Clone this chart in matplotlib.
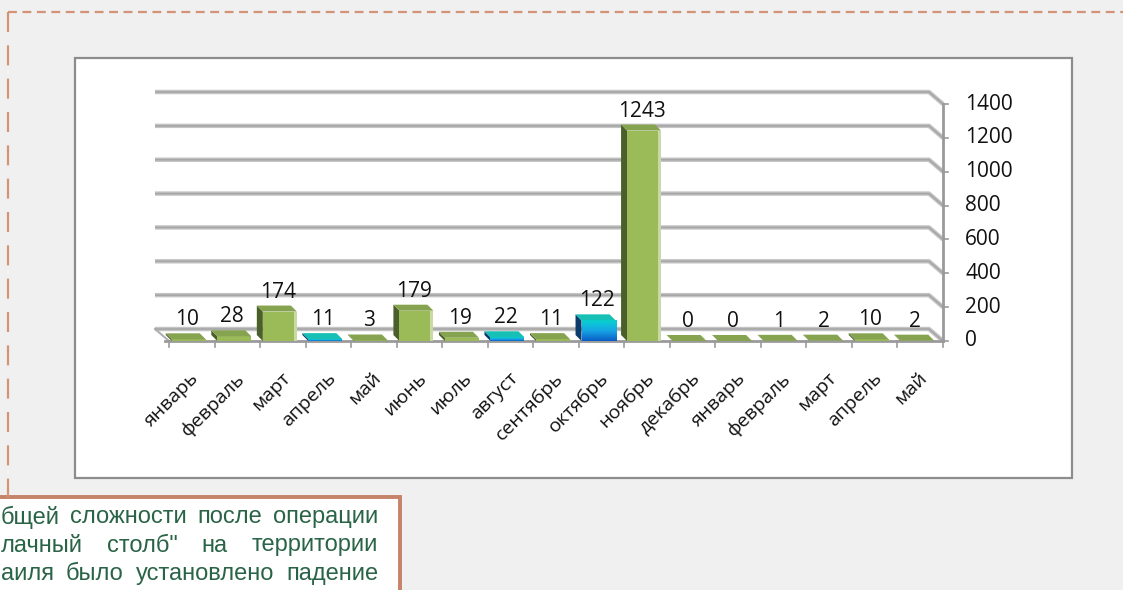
import numpy as np
import matplotlib
matplotlib.use("Agg")
import matplotlib.pyplot as plt
from matplotlib.patches import Polygon, Rectangle
from matplotlib.colors import LinearSegmentedColormap

# ---------------- data ----------------
months = ["январь", "февраль", "март", "апрель", "май", "июнь", "июль", "август",
          "сентябрь", "октябрь", "ноябрь", "декабрь", "январь", "февраль", "март",
          "апрель", "май"]
values = [10, 28, 174, 11, 3, 179, 19, 22, 11, 122, 1243, 0, 0, 1, 2, 10, 2]
blue_idx = [3, 7, 9]   # апрель, август, октябрь drawn in blue
y_ticks = [0, 200, 400, 600, 800, 1000, 1200, 1400]
note_lines = ["бщей сложности после операции",
              'лачный  столб"  на  территории',
              "аиля было установлено падение"]

W, H = 1123, 590
fig = plt.figure(figsize=(W / 100, H / 100), dpi=100)
fig.patch.set_facecolor("#f0f0f0")

# -------- overlay axes in pixel coordinates --------
ov = fig.add_axes([0, 0, 1, 1], zorder=0)
ov.set_xlim(0, W)
ov.set_ylim(H, 0)
ov.axis("off")

dash_col = "#d29377"
ov.plot([8, W], [12, 12], color=dash_col, lw=1.6, dashes=(4, 2.5), solid_capstyle="butt")
ov.plot([8, 8], [12, 497], color=dash_col, lw=1.6, dashes=(9, 6), solid_capstyle="butt")

ov.add_patch(Rectangle((75, 58), 997, 420, facecolor="white", edgecolor="#8c8c8c", lw=1.6))

ov.add_patch(Rectangle((-10, 497), 410, 120, facecolor="white", edgecolor="#c5836a", lw=2.8))

renderer = fig.canvas.get_renderer()
x_left, x_right = 1, 378
for i, line in enumerate(note_lines):
    words = line.split()
    ys = 517 + i * 28.5
    ts = [ov.text(0, ys, w, fontsize=17, family="Liberation Sans", color="#2a6446",
                  va="center", ha="left") for w in words]
    widths = [t.get_window_extent(renderer).width for t in ts]
    gap = (x_right - x_left - sum(widths)) / (len(words) - 1)
    x = x_left
    for t, w in zip(ts, widths):
        t.set_x(x)
        x += w + gap

# -------- data axes --------
X0, X1, Y0, Y1 = 169, 943, 341, 104
ax = fig.add_axes([X0 / W, (H - Y0) / H, (X1 - X0) / W, (Y0 - Y1) / H], zorder=1)
ax.patch.set_visible(False)
for s in ax.spines.values():
    s.set_visible(False)
ax.set_xticks([])
ax.set_yticks([])
n = len(months)
ax.set_xlim(0.5, n + 0.5)
ax.set_ylim(0, 1400)
ux = n / (X1 - X0)          # data units per pixel, x
uy = 1400 / (Y0 - Y1)       # data units per pixel, y

# back-wall gridlines
bx, by = 14 * ux, 12 * uy
left_x = 0.5 - 14 * ux
for v in y_ticks:
    xs = [left_x, n + 0.5 - bx, n + 0.5]
    ys = [v + by, v + by, v]
    ax.plot(xs, ys, color="#c4c4c4", lw=3.2, clip_on=False, zorder=1, solid_capstyle="butt")
    ax.plot(xs, ys, color="#a6a6a6", lw=1.2, clip_on=False, zorder=1.1, solid_capstyle="butt")
# floor left edge
ax.plot([0.5, left_x], [0, by], color="#b0b0b0", lw=1.5, clip_on=False, zorder=1)

# x axis line and ticks
ax.plot([0.5 - 4 * ux, n + 0.5], [0, 0], color="#9a9a9a", lw=2, clip_on=False, zorder=2)
for k in range(n + 1):
    ax.plot([0.5 + k, 0.5 + k], [0, -6 * uy], color="#9a9a9a", lw=1.2, clip_on=False, zorder=2)
# right value axis
ax.plot([n + 0.5, n + 0.5], [0, 1400], color="#9a9a9a", lw=2, clip_on=False, zorder=2)
for v in y_ticks:
    ax.plot([n + 0.5, n + 0.5 + 5 * ux], [v, v], color="#9a9a9a", lw=1.2, clip_on=False, zorder=2)
    ax.text(n + 0.5 + 22 * ux, v, str(v), fontsize=15, family="Open Sans",
            ha="left", va="center", color="#111111", clip_on=False)

# bars
dx, dy = -6 * ux, 6 * uy
half = 17 * ux
shift = -3 * ux
blue_cmap = LinearSegmentedColormap.from_list("b", ["#0a5ec6", "#17a6e4", "#06d2d0"])
for i, (m, v) in enumerate(zip(months, values)):
    c = i + 1
    x0, x1 = c + shift - half, c + shift + half
    is_blue = i in blue_idx
    if is_blue:
        side_col, top_col = "#0b3c6e", "#17c0b4"
    else:
        side_col, top_col = "#4b5f2a", "#86a350"
    # left side face
    ax.add_patch(Polygon([(x0, 0), (x0, v), (x0 + dx, v + dy), (x0 + dx, dy)],
                         closed=True, facecolor=side_col, edgecolor="none",
                         clip_on=False, zorder=3))
    # front face
    if is_blue:
        grad = np.linspace(0, 1, 50).reshape(-1, 1)
        ax.imshow(grad, extent=[x0, x1, 0, max(v, 0.01)], origin="lower",
                  cmap=blue_cmap, aspect="auto", zorder=3, clip_on=False)
    else:
        ax.add_patch(Rectangle((x0, 0), x1 - x0, v, facecolor="#9bbb59",
                               edgecolor="none", clip_on=False, zorder=3))
        if v > 100:
            ax.add_patch(Rectangle((x1 - 3 * ux, 0), 3 * ux, v, facecolor="#c9d9a3",
                                   edgecolor="none", clip_on=False, zorder=3.1))
    # top face
    ax.add_patch(Polygon([(x0, v), (x1, v), (x1 + dx, v + dy), (x0 + dx, v + dy)],
                         closed=True, facecolor=top_col, edgecolor="none",
                         clip_on=False, zorder=3.2))
    # data label
    ax.text(c - 5 * ux, v + 9 * uy, str(v), fontsize=15, family="Open Sans",
            ha="center", va="bottom", color="#111111", clip_on=False, zorder=4)
    # category label
    ax.text(c - 2 * ux, -28 * uy, m, fontsize=14, family="Open Sans", rotation=45,
            rotation_mode="anchor", ha="right", va="top", color="#111111", clip_on=False)

ax.set_xlim(0.5, n + 0.5)
ax.set_ylim(0, 1400)

fig.savefig("out.png", dpi=100, facecolor=fig.get_facecolor())
